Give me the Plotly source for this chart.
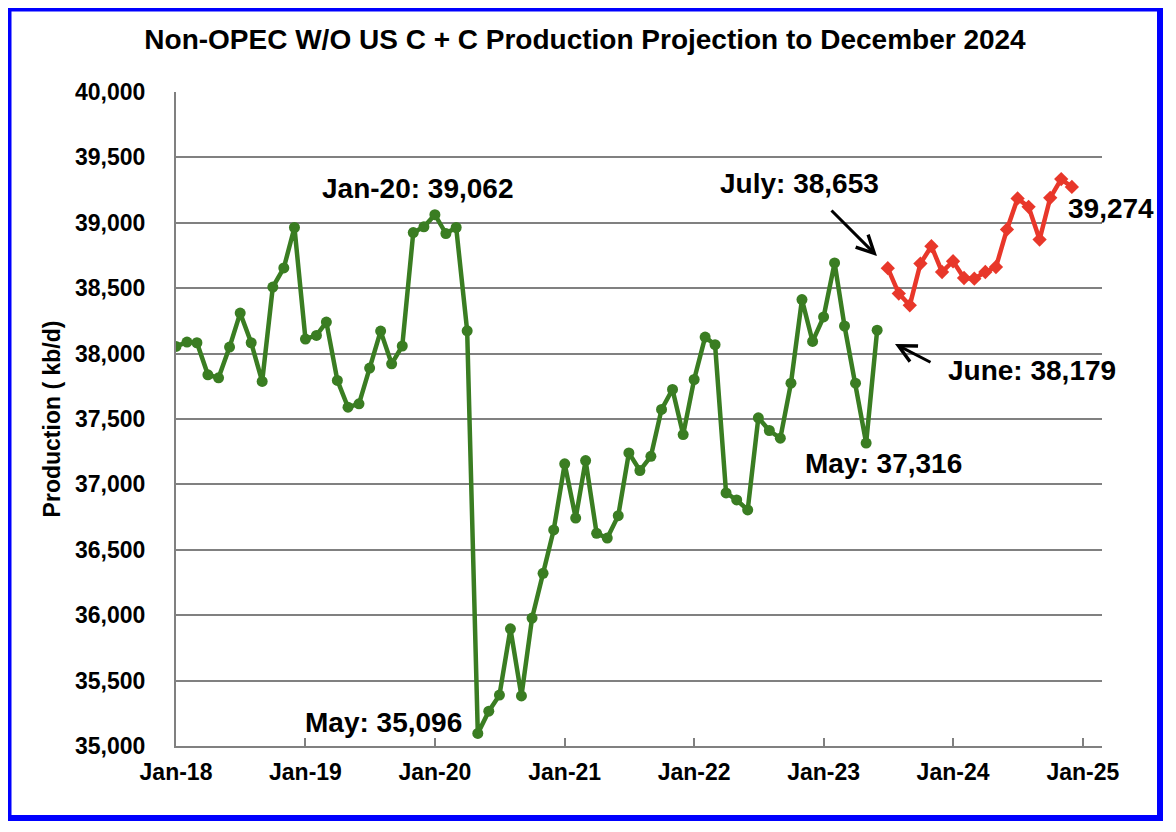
import plotly.graph_objects as go
import pandas as pd

# ---- data (kb/d) ----
hist_start = "2018-01-01"
hist_values = [
    38055, 38088, 38083, 37838, 37815, 38050, 38310, 38083, 37787, 38509, 38655, 38964,  # 2018
    38111, 38139, 38241, 37795, 37590, 37616, 37889, 38172, 37922, 38058, 38925, 38969,  # 2019
    39062, 38918, 38964, 38174, 35096, 35266, 35389, 35896, 35383, 35978, 36320, 36652,  # 2020
    37157, 36743, 37182, 36626, 36590, 36761, 37241, 37106, 37215, 37573, 37726, 37381,  # 2021
    37802, 38126, 38068, 36935, 36881, 36805, 37509, 37412, 37353, 37774, 38413, 38093,  # 2022
    38280, 38693, 38211, 37774, 37316, 38179,                                            # 2023
]
proj_start = "2023-07-01"
proj_values = [
    38653, 38459, 38369, 38688, 38821, 38624,
    38706, 38578, 38573, 38624, 38662, 38949, 39186, 39122, 38872, 39191, 39334, 39274,
]
hist_dates = pd.date_range(hist_start, periods=len(hist_values), freq="MS")
proj_dates = pd.date_range(proj_start, periods=len(proj_values), freq="MS")

title_text = "Non-OPEC W/O US C + C Production Projection to December 2024"
y_title = "Production ( kb/d)"
label_texts = {
    "jan20": "Jan-20: 39,062",
    "may20": "May: 35,096",
    "jul23": "July: 38,653",
    "jun23": "June: 38,179",
    "may23": "May: 37,316",
    "dec24": "39,274",
}

# ---- layout geometry (page pixels; the page body adds an 8px offset) ----
OFF = 8
W, H = 1160, 816
L, R, T, B = 176 - OFF, 1102 - OFF, 92 - OFF, 746 - OFF
pw, ph = R - L, B - T


def px(x):
    return (x - OFF - L) / pw


def py(y):
    return (B - (y - OFF)) / ph


FONT = "Liberation Sans, Arial, sans-serif"
GREEN = "#3A7D22"
RED = "#E8372A"
GRAY = "#808080"

fig = go.Figure()
fig.add_trace(go.Scatter(
    x=hist_dates, y=hist_values, mode="lines+markers",
    line=dict(color=GREEN, width=4.5),
    marker=dict(symbol="circle", size=11, color=GREEN),
    showlegend=False, hoverinfo="x+y",
))
fig.add_trace(go.Scatter(
    x=proj_dates, y=proj_values, mode="lines+markers",
    line=dict(color=RED, width=4.5),
    marker=dict(symbol="diamond", size=11, color=RED),
    showlegend=False, hoverinfo="x+y",
))

ann = []


def text_ann(key, cx, cy, size=28):
    ann.append(dict(
        text="<b>%s</b>" % label_texts[key], xref="paper", yref="paper",
        x=px(cx), y=py(cy), xanchor="center", yanchor="middle",
        showarrow=False, font=dict(family=FONT, size=size, color="black"),
    ))


text_ann("jan20", 417, 188)
text_ann("may20", 383, 722)
text_ann("jul23", 799, 183)
text_ann("jun23", 1032, 370)
text_ann("may23", 883, 463)
text_ann("dec24", 1111, 208)

# arrows
for hx, hy, tx, ty in [(877, 256, 830, 209), (895, 344, 932, 363)]:
    ann.append(dict(
        text="", xref="paper", yref="paper", x=px(hx), y=py(hy),
        ax=tx - hx, ay=ty - hy, axref="pixel", ayref="pixel",
        showarrow=True, arrowhead=5, arrowsize=1.15, arrowwidth=3, arrowcolor="black",
    ))

shapes = [dict(
    type="rect", xref="paper", yref="paper",
    x0=px(8.5), x1=px(1160), y0=py(818), y1=py(8.5),
    line=dict(color="#0000FF", width=6), fillcolor="rgba(0,0,0,0)", layer="above",
)]

fig.update_layout(
    width=W, height=H,
    margin=dict(l=L, r=W - R, t=T, b=H - B, pad=0),
    paper_bgcolor="white", plot_bgcolor="white",
    title=dict(text="<b>%s</b>" % title_text, x=(585 - OFF) / W, xanchor="center",
               y=1 - (39 - OFF) / H, yanchor="middle", yref="container",
               font=dict(family=FONT, size=28, color="black")),
    font=dict(family=FONT, color="black"),
    annotations=ann, shapes=shapes,
)
fig.update_xaxes(
    type="date", range=["2018-01-01", "2025-02-24"],
    tick0="2018-01-01", dtick="M12", tickformat="%b-%y",
    ticks="inside", ticklen=8, tickwidth=2, tickcolor=GRAY,
    showline=True, linecolor=GRAY, linewidth=2, showgrid=False, zeroline=False,
    tickfont=dict(family=FONT, size=23, color="black", weight="bold"),
    ticklabelstandoff=4,
)
fig.update_yaxes(
    range=[35000, 40000], dtick=500, tickformat=",d",
    showline=True, linecolor=GRAY, linewidth=2,
    showgrid=True, gridcolor=GRAY, gridwidth=2, zeroline=False,
    ticks="", tickfont=dict(family=FONT, size=23, color="black", weight="bold"),
    ticklabelstandoff=24,
    title=dict(text="<b>%s</b>" % y_title, font=dict(family=FONT, size=23, color="black"), standoff=8),
)
fig.write_html("out.html")
